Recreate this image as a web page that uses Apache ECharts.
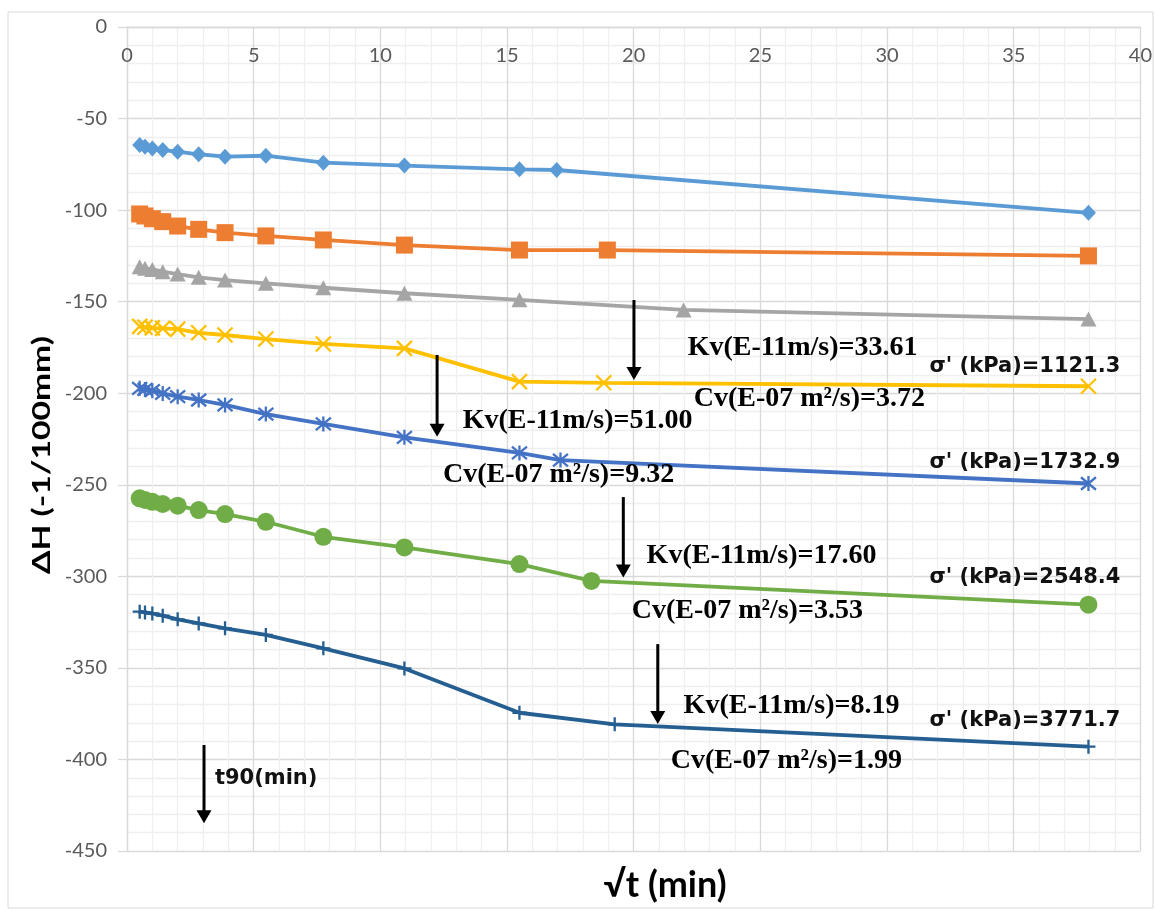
<!DOCTYPE html>
<html><head><meta charset="utf-8">
<script src="https://cdn.jsdelivr.net/npm/echarts@6/dist/echarts.min.js"></script>
<style>html,body{margin:0;padding:0;background:#fff}#c{width:1155px;height:911px}</style>
</head><body><div id="c"></div>
<script>
// ---- data (x = sqrt(t) in min^0.5, y = ΔH in -1/100 mm) ----
const xEarly = [0.5, 0.71, 1, 1.41, 2, 2.83, 3.87, 5.48, 7.75, 10.95, 15.49];
const x1 = [...xEarly, 16.96, 37.95];
const y1 = [-64.4, -65.4, -66.3, -67.2, -68.1, -69.5, -70.8, -70.3, -74.1, -75.7, -77.7, -78.1, -101.5];
const x2 = [...xEarly, 18.96, 37.95];
const y2 = [-102.1, -103.2, -104.7, -106.3, -108.7, -110.5, -112.3, -114.1, -116.3, -119.1, -121.8, -121.8, -125];
const x3 = [...xEarly, 21.97, 37.95];
const y3 = [-130.9, -131.8, -132.4, -133.6, -134.9, -136.7, -138.2, -140, -142.4, -145.4, -149, -154.5, -159.5];
const x4 = [...xEarly, 18.82, 37.95];
const y4 = [-163.5, -164, -164.3, -164.6, -165, -167, -168.2, -170.4, -173.1, -175.5, -193.7, -194.3, -196.2];
const x5 = [...xEarly, 17.11, 37.95];
const y5 = [-197.3, -197.9, -198.6, -200.1, -201.9, -203.7, -206.4, -211.4, -216.8, -224.1, -232.6, -236.5, -249.3];
const x6 = [...xEarly, 18.33, 37.95];
const y6 = [-257.4, -258.3, -259.3, -260.5, -261.4, -263.8, -266, -270.2, -278.4, -284.2, -293.3, -302.5, -315.5];
const x7 = [...xEarly, 19.25, 37.95];
const y7 = [-319.3, -319.7, -320.3, -321.5, -323.5, -325.7, -328.4, -332, -339.3, -350.3, -374.5, -380.8, -393];

const xTicks = { min: 0, max: 40, interval: 5 };
const yTicks = { min: -450, max: 0, interval: 50 };

const kvTexts = ['Kv(E-11m/s)=33.61', 'Kv(E-11m/s)=51.00', 'Kv(E-11m/s)=17.60', 'Kv(E-11m/s)=8.19'];
const cvTexts = ['Cv(E-07 m²/s)=3.72', 'Cv(E-07 m²/s)=9.32', 'Cv(E-07 m²/s)=3.53', 'Cv(E-07 m²/s)=1.99'];
const sigmaTexts = ["σ' (kPa)=1121.3", "σ' (kPa)=1732.9", "σ' (kPa)=2548.4", "σ' (kPa)=3771.7"];
const t90Text = 't90(min)';
const xTitle = '√t (min)';
const yTitle = 'ΔH (-1/100mm)';

// ---- layout of annotations (in data coordinates) ----
const kvPos = [[22.13, -175.3], [13.25, -215.2], [20.51, -288.9], [21.97, -370.8]];
const cvPos = [[22.37, -203.2], [12.47, -244.7], [19.92, -318.9], [21.46, -400.8]];
const sigmaPos = [[39.21, -185.7], [39.21, -237.6], [39.21, -300.4], [39.21, -378.5]];
const t90Pos = [3.47, -410.7];
const arrowPos = [[20.01, -149.1, -192.8], [12.24, -179.1, -223.8], [19.59, -256.7, -300.7], [20.95, -337, -380.7], [3.04, -392.1, -434.9]];

const X_PATH = 'path://M0,0L10,10M10,0L0,10';
const STAR_PATH = 'path://M0,0L10,10M10,0L0,10M5,-1L5,11';
const PLUS_PATH = 'path://M5,0L5,10M0,5L10,5';

const defs = [
  { x: x1, y: y1, color: '#5B9BD5', symbol: 'diamond', size: [15, 16], stroke: false },
  { x: x2, y: y2, color: '#ED7D31', symbol: 'rect', size: 17, stroke: false },
  { x: x3, y: y3, color: '#A5A5A5', symbol: 'triangle', size: [16, 15], stroke: false },
  { x: x4, y: y4, color: '#FFC000', symbol: X_PATH, size: 15, stroke: true },
  { x: x5, y: y5, color: '#4472C4', symbol: STAR_PATH, size: 15, stroke: true },
  { x: x6, y: y6, color: '#70AD47', symbol: 'circle', size: 18, stroke: false },
  { x: x7, y: y7, color: '#255E91', symbol: PLUS_PATH, size: 14, stroke: true }
];

const chart = echarts.init(document.getElementById('c'), null, { renderer: 'canvas' });
const gridLine = { color: '#d9d9d9', width: 1.3 };
const minorLine = { color: '#efefef', width: 1.3 };
const tickFont = { color: '#595959', fontFamily: 'Lato', fontSize: 20 };

chart.setOption({
  animation: false,
  backgroundColor: '#fff',
  grid: { left: 127, right: 14, top: 27, bottom: 60, containLabel: false },
  xAxis: {
    type: 'value', min: xTicks.min, max: xTicks.max, interval: xTicks.interval, position: 'top',
    axisLine: { show: true, onZero: false, lineStyle: gridLine },
    axisTick: { show: false },
    axisLabel: Object.assign({ inside: true, margin: 19 }, tickFont),
    splitLine: { show: true, lineStyle: gridLine },
    minorTick: { show: false, splitNumber: 5 },
    minorSplitLine: { show: true, lineStyle: minorLine }
  },
  yAxis: {
    type: 'value', min: yTicks.min, max: yTicks.max, interval: yTicks.interval,
    axisLine: { show: true, onZero: false, lineStyle: gridLine },
    axisTick: { show: true, length: 9, lineStyle: gridLine },
    axisLabel: Object.assign({ margin: 20 }, tickFont),
    splitLine: { show: true, lineStyle: gridLine },
    minorTick: { show: false, splitNumber: 5 },
    minorSplitLine: { show: true, lineStyle: minorLine }
  },
  series: defs.map((d, i) => ({
    type: 'line',
    name: 's' + i,
    data: d.x.map((v, k) => [v, d.y[k]]),
    symbol: d.symbol,
    symbolSize: d.size,
    showAllSymbol: true,
    lineStyle: { color: d.color, width: 3.8 },
    itemStyle: { color: d.color, borderColor: d.color, borderWidth: d.stroke ? 2.3 : 0 },
    z: 2 + i
  }))
});

const px = (p) => chart.convertToPixel({ gridIndex: 0 }, p);
const g = [];
g.push({ type: 'rect', shape: { x: 8, y: 12, width: 1145, height: 896 }, style: { fill: 'none', stroke: '#d9d9d9', lineWidth: 1 }, silent: true, z: 0 });
const serif = 'bold 28px "Liberation Serif"';
kvTexts.forEach((t, i) => {
  const p = px(kvPos[i]);
  g.push({ type: 'text', x: p[0], y: p[1], z: 50, style: { text: t, font: serif, fill: '#000', textAlign: 'left', textVerticalAlign: 'middle', align: 'left', verticalAlign: 'middle' } });
});
cvTexts.forEach((t, i) => {
  const p = px(cvPos[i]);
  g.push({ type: 'text', x: p[0], y: p[1], z: 50, style: { text: t, font: serif, fill: '#000', textAlign: 'left', textVerticalAlign: 'middle', align: 'left', verticalAlign: 'middle' } });
});
sigmaTexts.forEach((t, i) => {
  const p = px(sigmaPos[i]);
  g.push({ type: 'text', x: p[0], y: p[1], z: 50, style: { text: t, font: 'bold 21px "DejaVu Sans"', fill: '#111', textAlign: 'right', textVerticalAlign: 'middle', align: 'right', verticalAlign: 'middle' } });
});
{
  const p = px(t90Pos);
  g.push({ type: 'text', x: p[0], y: p[1], z: 50, style: { text: t90Text, font: 'bold 21px "DejaVu Sans"', fill: '#111', textAlign: 'left', textVerticalAlign: 'middle', align: 'left', verticalAlign: 'middle' } });
}
arrowPos.forEach((a) => {
  const top = px([a[0], a[1]]);
  const tip = px([a[0], a[2]]);
  const headL = 13, headW = 7.5;
  g.push({ type: 'line', z: 49, shape: { x1: top[0], y1: top[1], x2: tip[0], y2: tip[1] - headL + 1 }, style: { stroke: '#000', lineWidth: 3 } });
  g.push({ type: 'polygon', z: 49, shape: { points: [[tip[0] - headW, tip[1] - headL], [tip[0] + headW, tip[1] - headL], [tip[0], tip[1]]] }, style: { fill: '#000' } });
});
// axis titles
g.push({ type: 'text', x: 665, y: 885, z: 50, style: { text: xTitle, font: 'bold 36px Lato', fill: '#000', textAlign: 'center', textVerticalAlign: 'middle', align: 'center', verticalAlign: 'middle' } });
g.push({ type: 'text', x: 42, y: 455, rotation: Math.PI / 2, scaleX: 1.4, z: 50, style: { text: yTitle, font: 'bold 24px Lato', fill: '#000', textAlign: 'center', textVerticalAlign: 'middle', align: 'center', verticalAlign: 'middle' } });

chart.setOption({ graphic: { elements: g } });
</script>
</body></html>
